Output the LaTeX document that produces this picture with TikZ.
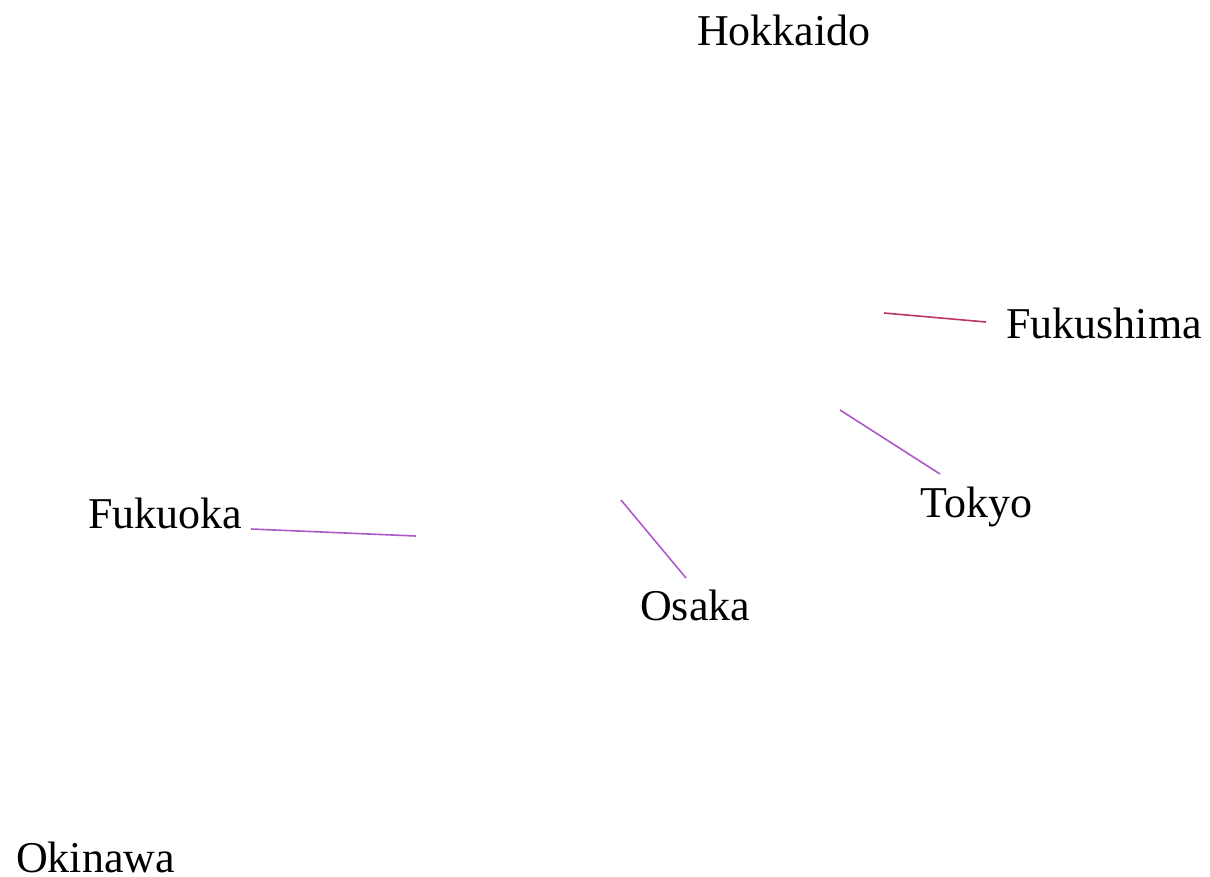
\documentclass[tikz,border=0pt]{standalone}
\usepackage{fontspec}
\setmainfont{Liberation Serif}
\definecolor{crim}{RGB}{188,52,104}
\definecolor{purp}{RGB}{172,88,200}
\tikzset{
  city/.style={anchor=base west, inner sep=0pt, font=\fontsize{44}{53}\selectfont},
  link/.style={line width=1.6pt},
}
\begin{document}
\begin{tikzpicture}[x=1pt,y=-1pt]
\useasboundingbox (0,0) rectangle (1210,876);
\node[city] (hok) at (697,45) {Hokkaido};
\node[city] (fks) at (1006,338) {Fukushima};
\node[city] (tok) at (920,517) {Tokyo};
\node[city] (osa) at (640,620) {Osaka};
\node[city] (fko) at (88,528) {Fukuoka};
\node[city] (oki) at (16,872) {Okinawa};
\coordinate (a1) at (884,313);
\coordinate (a2) at (986,322);
\coordinate (b1) at (840,410);
\coordinate (b2) at (940,474);
\coordinate (c1) at (621,500);
\coordinate (c2) at (686,578);
\coordinate (d1) at (251,529);
\coordinate (d2) at (416,536);
\draw[link,crim] (a1) -- (a2);
\draw[link,purp] (b1) -- (b2);
\draw[link,purp] (c1) -- (c2);
\draw[link,purp] (d1) -- (d2);
\end{tikzpicture}
\end{document}
